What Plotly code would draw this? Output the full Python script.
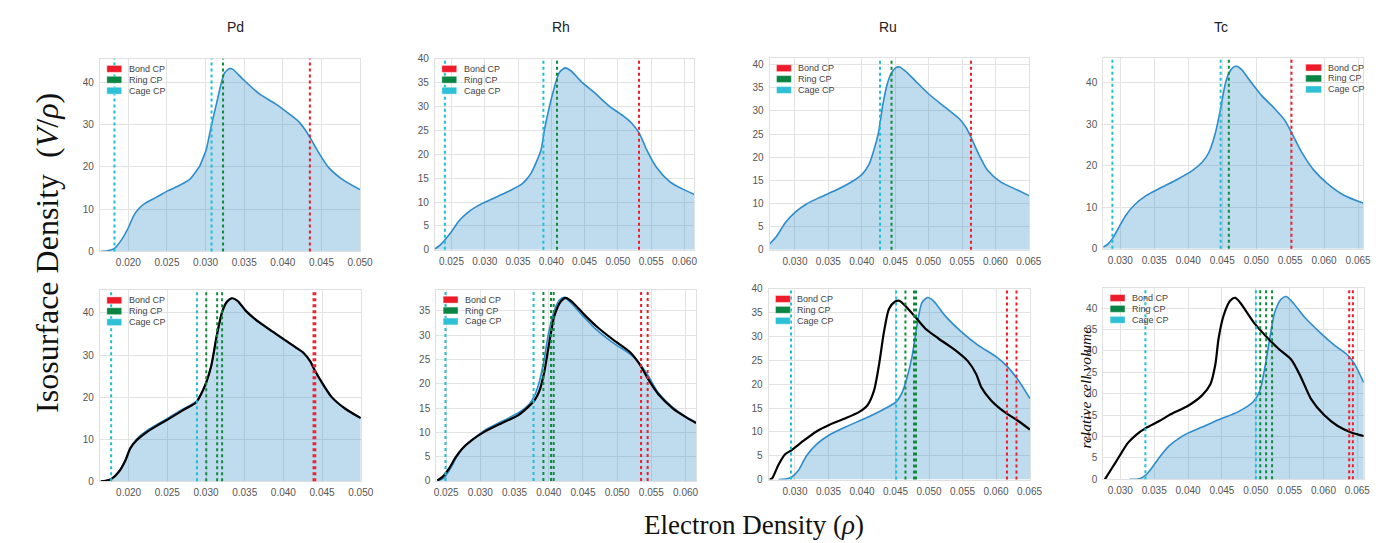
import plotly.graph_objects as go

W, H = 1382, 543

elements = ["Pd", "Rh", "Ru", "Tc"]
legend_labels = ["Bond CP", "Ring CP", "Cage CP"]

# ---------------- Pd ----------------
pd_top_rho = [0.01637, 0.01731, 0.01825, 0.01902, 0.0200, 0.02073, 0.02140, 0.02201, 0.02372, 0.02509,
              0.02671, 0.02799, 0.02880, 0.02927, 0.02970, 0.03009, 0.03077, 0.03141, 0.03205, 0.03247,
              0.03312, 0.03354, 0.03482, 0.03696, 0.03910, 0.04081, 0.04209, 0.04286, 0.04359, 0.04466,
              0.04594, 0.04765, 0.0500]
pd_top_dens = [0.0, 0.15, 0.8, 2.5, 5.6, 8.6, 10.2, 11.2, 12.9, 14.3,
               15.7, 17.1, 19.0, 20.3, 22.2, 24.1, 29.9, 34.9, 39.9, 42.2,
               43.2, 43.0, 40.7, 37.2, 34.8, 32.5, 30.6, 28.8, 26.7, 23.3,
               19.8, 17.1, 14.6]
pd_top_bond = [0.0435]
pd_top_ring = [0.03226]
pd_top_cage = [0.0182, 0.03077]

pd_bot_rho = [0.01640, 0.01701, 0.01774, 0.01872, 0.01957, 0.02021, 0.02107, 0.02235, 0.02384, 0.02534,
              0.02704, 0.02875, 0.02939, 0.03003, 0.03067, 0.03140, 0.03208, 0.03268, 0.03336, 0.03408,
              0.03515, 0.03686, 0.03899, 0.04113, 0.04262, 0.04348, 0.04411, 0.04497, 0.04625, 0.04796,
              0.0500]
pd_bot_dens_ref = [0.0, 0.1, 0.5, 2.3, 5.1, 8.0, 10.1, 12.0, 13.7, 15.3,
                   17.2, 19.0, 20.9, 23.5, 27.4, 34.9, 40.3, 42.7, 43.5, 42.8,
                   40.4, 37.7, 35.0, 32.3, 30.4, 28.4, 26.1, 23.4, 19.9, 17.2,
                   15.0]
pd_bot_dens_new = [0.0, 0.1, 0.5, 2.2, 4.9, 7.8, 9.8, 11.7, 13.4, 15.0,
                   16.9, 18.8, 20.8, 23.5, 27.4, 34.7, 40.2, 42.6, 43.5, 42.9,
                   40.5, 37.8, 35.1, 32.4, 30.5, 28.5, 26.2, 23.5, 20.0, 17.3,
                   15.0]
pd_bot_bond = [0.04390, 0.04412]
pd_bot_ring = [0.03003, 0.03144, 0.03208]
pd_bot_cage = [0.01774, 0.02883]

# ---------------- Rh ----------------
rh_top_rho = [0.02252, 0.02337, 0.02411, 0.02510, 0.02609, 0.02733, 0.02906, 0.03104, 0.03351, 0.03550,
              0.03624, 0.03698, 0.03773, 0.03847, 0.03896, 0.03970, 0.04045, 0.04119, 0.04208, 0.04293,
              0.04466, 0.04639, 0.04860, 0.05084, 0.05208, 0.05322, 0.05431, 0.05579, 0.05777, 0.05975,
              0.06149]
rh_top_dens = [0.2, 1.1, 2.25, 4.0, 6.0, 7.7, 9.3, 10.6, 12.2, 13.7,
               14.7, 16.1, 18.3, 21.0, 25.1, 29.9, 34.0, 37.1, 38.1, 37.5,
               35.0, 33.0, 30.2, 28.0, 26.5, 24.4, 21.0, 17.3, 14.3, 12.7,
               11.6]
rh_top_bond = [0.05317]
rh_top_ring = [0.04085]
rh_top_cage = [0.02401, 0.03881]

rh_bot_rho_ref = [0.02370, 0.02466, 0.02563, 0.02659, 0.02756, 0.02900, 0.03093, 0.03334, 0.03575, 0.03720,
                  0.03802, 0.03865, 0.03927, 0.03995, 0.04072, 0.04154, 0.04226, 0.04321, 0.04491, 0.04684,
                  0.04925, 0.05190, 0.05335, 0.05456, 0.05600, 0.05817, 0.06010, 0.06154]
rh_bot_dens_ref = [0.0, 0.6, 2.6, 5.0, 7.0, 8.7, 10.7, 12.4, 14.2, 15.9,
                   17.9, 20.6, 24.6, 30.3, 34.7, 37.2, 37.8, 36.7, 34.1, 31.3,
                   28.6, 26.1, 24.1, 21.6, 18.2, 15.1, 13.2, 12.1]
rh_bot_rho_new = [0.02370, 0.02442, 0.02539, 0.02635, 0.02731, 0.02876, 0.03069, 0.03310, 0.03551, 0.03696,
                  0.03792, 0.03865, 0.03937, 0.04009, 0.04082, 0.04178, 0.04250, 0.04347, 0.04515, 0.04708,
                  0.04949, 0.05190, 0.05335, 0.05456, 0.05600, 0.05817, 0.06010, 0.06154]
rh_bot_dens_new = [0.1, 0.8, 2.5, 4.8, 6.6, 8.4, 10.2, 11.9, 13.5, 15.2,
                   16.6, 18.6, 22.6, 28.6, 34.0, 37.0, 37.7, 36.8, 34.3, 31.7,
                   29.0, 26.5, 23.9, 20.9, 17.9, 14.9, 13.1, 11.9]
rh_bot_bond = [0.05350, 0.05446]
rh_bot_ring = [0.03922, 0.04033, 0.04072]
rh_bot_cage = [0.02490, 0.03778]

# ---------------- Ru ----------------
ru_top_rho = [0.02620, 0.02729, 0.02852, 0.03000, 0.03173, 0.03370, 0.03617, 0.03863, 0.04011, 0.04110,
              0.04184, 0.04248, 0.04317, 0.04381, 0.04445, 0.04505, 0.04564, 0.04653, 0.04801, 0.04998,
              0.05245, 0.05467, 0.05565, 0.05639, 0.05738, 0.05886, 0.06083, 0.06330, 0.06503]
ru_top_dens = [1.27, 3.0, 5.8, 8.1, 9.9, 11.3, 12.9, 14.8, 16.4, 18.5,
               21.7, 25.2, 31.5, 35.8, 38.2, 39.3, 39.5, 38.6, 36.5, 33.7,
               30.8, 28.2, 26.3, 24.2, 21.0, 17.1, 14.6, 12.9, 11.7]
ru_top_bond = [0.05634]
ru_top_ring = [0.04445]
ru_top_cage = [0.04273]

ru_bot_rho_ref = [0.02754, 0.02877, 0.02951, 0.03049, 0.03172, 0.03320, 0.03516, 0.03762, 0.04058, 0.04304,
                  0.04510, 0.04599, 0.04672, 0.04746, 0.04820, 0.04894, 0.04982, 0.05066, 0.05238, 0.05484,
                  0.05730, 0.06000, 0.06162, 0.06320, 0.06507]
ru_bot_dens_ref = [0.0, 0.15, 0.55, 1.9, 5.0, 7.4, 9.4, 11.1, 12.9, 14.6,
                   16.3, 18.3, 21.4, 25.8, 32.3, 37.1, 38.2, 37.5, 34.4, 31.0,
                   28.2, 25.8, 23.8, 21.1, 17.0]
ru_bot_rho_new = [0.02620, 0.02656, 0.02754, 0.02852, 0.02951, 0.03123, 0.03320, 0.03516, 0.03762, 0.03959,
                  0.04082, 0.04180, 0.04254, 0.04328, 0.04402, 0.04490, 0.04559, 0.04648, 0.04795, 0.04943,
                  0.05140, 0.05386, 0.05582, 0.05705, 0.05779, 0.05927, 0.06124, 0.06320, 0.06507]
ru_bot_dens_new = [0.0, 0.2, 3.1, 5.3, 6.2, 8.1, 10.1, 11.5, 12.9, 14.2,
                   15.6, 18.7, 24.1, 31.0, 35.8, 37.3, 37.5, 36.4, 34.1, 31.7,
                   29.6, 27.2, 24.8, 22.1, 19.4, 16.6, 14.2, 12.4, 10.5]
ru_bot_bond = [0.06163, 0.06305]
ru_bot_ring = [0.04648, 0.04776, 0.04806]
ru_bot_cage = [0.02941, 0.04510]

# ---------------- Tc ----------------
tc_top_rho = [0.02748, 0.02820, 0.02893, 0.02990, 0.03087, 0.03209, 0.03379, 0.03573, 0.03816, 0.04058,
              0.04204, 0.04301, 0.04398, 0.04471, 0.04544, 0.04602, 0.04665, 0.04714, 0.04786, 0.04908,
              0.05078, 0.05272, 0.05417, 0.05524, 0.05660, 0.05854, 0.06049, 0.06291, 0.06573]
tc_top_dens = [0.4, 1.2, 2.7, 5.5, 8.2, 10.6, 12.8, 14.5, 16.5, 18.8,
               20.8, 23.1, 27.8, 33.3, 39.6, 42.4, 43.7, 43.9, 43.1, 40.4,
               36.9, 33.7, 31.0, 27.8, 23.5, 18.8, 15.7, 12.9, 11.0]
tc_top_bond = [0.05519]
tc_top_ring = [0.04597]
tc_top_cage = [0.02883, 0.04476]

tc_bot_rho_ref = [0.03136, 0.03283, 0.03370, 0.03453, 0.03575, 0.03720, 0.03916, 0.04013, 0.04208, 0.04451,
                  0.04744, 0.04963, 0.05060, 0.05134, 0.05207, 0.05280, 0.05377, 0.05450, 0.05547, 0.05718,
                  0.05962, 0.06156, 0.06351, 0.06449, 0.06595]
tc_bot_dens_ref = [0.0, 0.15, 0.9, 2.4, 5.1, 7.8, 10.1, 10.9, 12.2, 13.9,
                   15.8, 18.1, 20.7, 26.1, 32.9, 39.0, 42.1, 42.7, 41.3, 37.9,
                   34.1, 31.4, 29.1, 27.2, 22.6]
tc_bot_rho_new = [0.02771, 0.02868, 0.02990, 0.03112, 0.03234, 0.03380, 0.03575, 0.03720, 0.04013, 0.04207,
                  0.04330, 0.04403, 0.04451, 0.04524, 0.04622, 0.04695, 0.04768, 0.04987, 0.05182, 0.05328,
                  0.05523, 0.05669, 0.05815, 0.06010, 0.06205, 0.06400, 0.06595]
tc_bot_dens_new = [0.0, 2.4, 5.5, 8.5, 10.4, 12.0, 13.6, 15.0, 17.3, 19.6,
                   22.2, 26.8, 32.9, 38.2, 41.7, 42.4, 41.3, 36.3, 32.9, 30.6,
                   28.0, 23.8, 18.8, 15.0, 12.5, 11.0, 10.1]
tc_bot_bond = [0.06380, 0.06434]
tc_bot_ring = [0.05066, 0.05153, 0.05241]
tc_bot_cage = [0.03370, 0.05002]

# ---------------- styling ----------------
BLUE = "#2f8ccb"
FILL = "rgba(42,135,200,0.30)"
BLACK = "#000000"
RED = "#ee1c2a"
GREEN = "#0f8a3c"
CYAN = "#1cbfd3"
PATCH = {"Bond CP": "#ee1c2a", "Ring CP": "#0a8443", "Cage CP": "#2ec1d6"}

panels = [
    dict(rect=(99, 362, 54, 251), xr=(0.01632, 0.0500), yr=(0, 45.5), dy=10,
         ref=(pd_top_rho, pd_top_dens), new=None, bond=pd_top_bond, ring=pd_top_ring, cage=pd_top_cage, leg="left"),
    dict(rect=(437.7, 700, 54, 249.3), xr=(0.02252, 0.06149), yr=(0, 40), dy=5,
         ref=(rh_top_rho, rh_top_dens), new=None, bond=rh_top_bond, ring=rh_top_ring, cage=rh_top_cage, leg="left"),
    dict(rect=(776, 1038.3, 53.3, 249.3), xr=(0.02620, 0.06503), yr=(0, 41.4), dy=5,
         ref=(ru_top_rho, ru_top_dens), new=None, bond=ru_top_bond, ring=ru_top_ring, cage=ru_top_cage, leg="left"),
    dict(rect=(1113.3, 1376, 52.7, 248.3), xr=(0.02748, 0.06573), yr=(0, 46.0), dy=10,
         ref=(tc_top_rho, tc_top_dens), new=None, bond=tc_top_bond, ring=tc_top_ring, cage=tc_top_cage, leg="right"),
    dict(rect=(99, 362.7, 290.7, 486), xr=(0.01629, 0.0500), yr=(0, 45.4), dy=10,
         ref=(pd_bot_rho, pd_bot_dens_ref), new=(pd_bot_rho, pd_bot_dens_new),
         bond=pd_bot_bond, ring=pd_bot_ring, cage=pd_bot_cage, leg="left"),
    dict(rect=(439, 701.7, 290, 485.7), xr=(0.02355, 0.06154), yr=(0, 39.4), dy=5,
         ref=(rh_bot_rho_ref, rh_bot_dens_ref), new=(rh_bot_rho_new, rh_bot_dens_new),
         bond=rh_bot_bond, ring=rh_bot_ring, cage=rh_bot_cage, leg="left"),
    dict(rect=(775, 1039.3, 289.3, 484.3), xr=(0.02606, 0.06507), yr=(0, 40), dy=5,
         ref=(ru_bot_rho_ref, ru_bot_dens_ref), new=(ru_bot_rho_new, ru_bot_dens_new),
         bond=ru_bot_bond, ring=ru_bot_ring, cage=ru_bot_cage, leg="left"),
    dict(rect=(1113.3, 1376.7, 288.3, 484), xr=(0.02747, 0.06595), yr=(0, 44.7), dy=5,
         ref=(tc_bot_rho_ref, tc_bot_dens_ref), new=(tc_bot_rho_new, tc_bot_dens_new),
         bond=tc_bot_bond, ring=tc_bot_ring, cage=tc_bot_cage, leg="left"),
]

fig = go.Figure()
layout = {}
shapes = []
annotations = []

TICKFONT = dict(family="Liberation Sans, Arial, sans-serif", size=10, color="#555555")

for i, p in enumerate(panels, start=1):
    l, r, t, b = p["rect"]
    xa = "x" if i == 1 else f"x{i}"
    ya = "y" if i == 1 else f"y{i}"
    layout["xaxis" if i == 1 else f"xaxis{i}"] = dict(
        domain=[l / W, r / W], anchor=ya, range=list(p["xr"]), dtick=0.005, tick0=0,
        tickformat=".3f", showgrid=True, gridcolor="#e3e3e3", gridwidth=1,
        showline=True, linecolor="#e0e0e0", linewidth=1, mirror=True,
        zeroline=False, ticks="", tickfont=TICKFONT, ticklabelstandoff=2)
    layout["yaxis" if i == 1 else f"yaxis{i}"] = dict(
        domain=[1 - b / H, 1 - t / H], anchor=xa, range=list(p["yr"]), dtick=p["dy"], tick0=0,
        showgrid=True, gridcolor="#e3e3e3", gridwidth=1,
        showline=True, linecolor="#e0e0e0", linewidth=1, mirror=True,
        zeroline=False, ticks="", tickfont=TICKFONT, ticklabelstandoff=3)

    rx, ry = p["ref"]
    fig.add_trace(go.Scatter(x=rx, y=ry, xaxis=xa, yaxis=ya, mode="lines",
                             line=dict(color=BLUE, width=1.6, shape="spline", smoothing=0.7),
                             fill="tozeroy", fillcolor=FILL, showlegend=False, hoverinfo="skip"))
    if p["new"] is not None:
        nx, ny = p["new"]
        fig.add_trace(go.Scatter(x=nx, y=ny, xaxis=xa, yaxis=ya, mode="lines",
                                 line=dict(color=BLACK, width=2.2, shape="spline", smoothing=0.7),
                                 showlegend=False, hoverinfo="skip"))

    for vals, col in ((p["cage"], CYAN), (p["ring"], GREEN), (p["bond"], RED)):
        for v in vals:
            shapes.append(dict(type="line", xref=xa, yref=f"{ya} domain", x0=v, x1=v, y0=0, y1=1,
                               line=dict(color=col, width=2, dash="dot"), layer="above"))

    # legend (per panel)
    offsets = [10.3, 21.4, 32.6]
    for k, lab in enumerate(legend_labels):
        yc = t + offsets[k]
        if p["leg"] == "left":
            px0, px1, tx = l + 7, l + 22, l + 27
        else:
            px0, px1, tx = r - 58, r - 42, r - 37
        shapes.append(dict(type="rect", xref="paper", yref="paper",
                           x0=px0 / W, x1=px1 / W, y0=1 - (yc + 3.5) / H, y1=1 - (yc - 3.5) / H,
                           fillcolor=PATCH[lab], line=dict(width=0.6, color="rgba(255,255,255,0.6)"),
                           layer="above"))
        annotations.append(dict(text=lab, xref="paper", yref="paper", x=tx / W, y=1 - yc / H,
                                xanchor="left", yanchor="middle", showarrow=False,
                                font=dict(family="Liberation Sans, Arial, sans-serif", size=9, color="#444444")))

# element titles
for name, cx in zip(elements, [236, 565, 896, 1232]):
    annotations.append(dict(text=name, xref="paper", yref="paper", x=cx / W, y=1 - 21 / H,
                            xanchor="center", yanchor="middle", showarrow=False,
                            font=dict(family="Liberation Sans, Arial, sans-serif", size=14, color="#222222")))

# y-axis title
annotations.append(dict(text="Isosurface Density  (<i>V</i>/<i>ρ</i>)", xref="paper", yref="paper",
                        x=46 / W, y=1 - 253 / H, xanchor="center", yanchor="middle", textangle=-90,
                        showarrow=False,
                        font=dict(family="Liberation Serif, Times New Roman, serif", size=32, color="#111111")))
# x-axis title
annotations.append(dict(text="Electron Density (<i>ρ</i>)", xref="paper", yref="paper",
                        x=760 / W, y=1 - 531 / H, xanchor="center", yanchor="middle",
                        showarrow=False,
                        font=dict(family="Liberation Serif, Times New Roman, serif", size=27, color="#111111")))
# inner label
annotations.append(dict(text="<i>relative cell volume</i>", xref="paper", yref="paper",
                        x=1095 / W, y=1 - 390 / H, xanchor="center", yanchor="middle", textangle=-90,
                        showarrow=False,
                        font=dict(family="Liberation Serif, Times New Roman, serif", size=15.5, color="#111111")))

fig.update_layout(
    width=W, height=H, margin=dict(l=0, r=0, t=0, b=0),
    paper_bgcolor="white", plot_bgcolor="white", showlegend=False,
    shapes=shapes, annotations=annotations, **layout)

fig.write_html("out.html", config={"displayModeBar": False},
               post_script="document.body.style.margin='0';document.body.style.overflow='hidden';")
